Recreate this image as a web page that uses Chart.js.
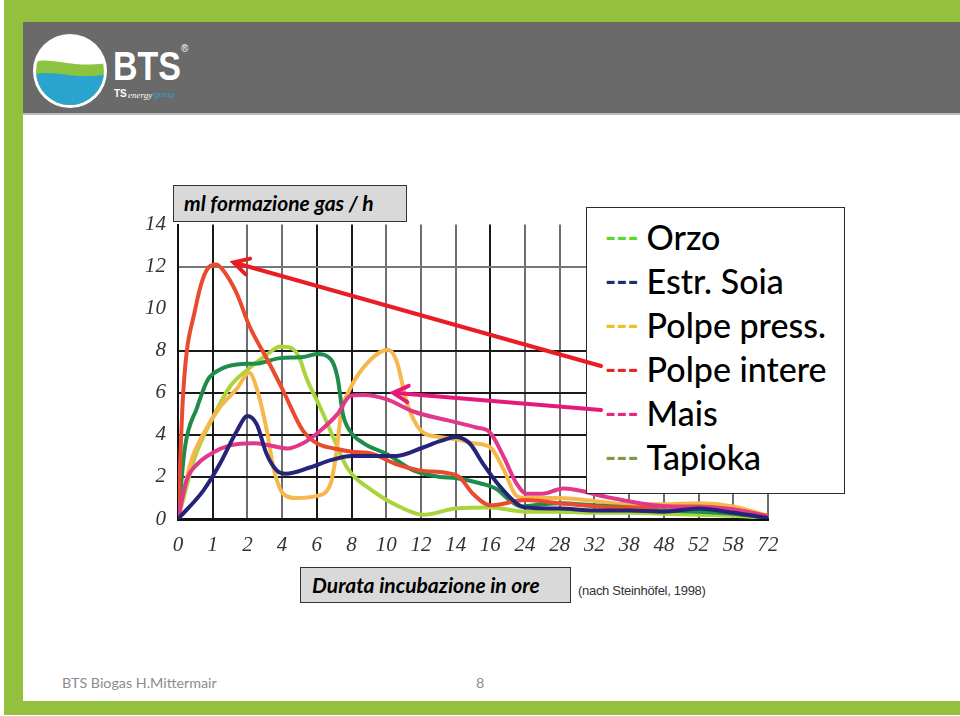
<!DOCTYPE html>
<html>
<head>
<meta charset="utf-8">
<script src="https://cdn.jsdelivr.net/npm/chart.js@4/dist/chart.umd.min.js"></script>
<style>
  html, body { margin:0; padding:0; background:#fff; }
  #slide { position:relative; width:960px; height:716px; overflow:hidden; background:#fff; font-family: Lato, "Open Sans", sans-serif; }
  .green { position:absolute; background:#93c13d; }
  #header { position:absolute; left:23px; top:22px; width:937px; height:91px; background:#6a6a6a; border-bottom:2px solid #b9b9b9; }
  #chartCanvas, #overlay { position:absolute; left:120px; top:200px; }
  #chartCanvas { z-index:1; }
  #legend { position:absolute; left:586px; top:207px; width:257px; height:278px; background:#fff; border:1.5px solid #2a2a2a; z-index:2; box-sizing:content-box; padding-top:7px; }
  #legend .row { height:44px; line-height:44px; font-size:34px; font-weight:500; color:#000; white-space:nowrap; padding-left:18px; }
  #legend .dash { font-weight:700; font-size:30px; margin-right:8px; position:relative; top:-2px; }
  #overlay { z-index:3; pointer-events:none; }
  .tbox { position:absolute; background:#d9d9d9; border:1.5px solid #333; font-weight:700; font-style:italic; font-size:21px; color:#000; box-sizing:border-box; padding-left:10px; z-index:2; }
  #src { position:absolute; left:578px; top:583px; font-family:"Liberation Sans Narrow","Liberation Sans",Arial,sans-serif; font-size:13px; letter-spacing:-0.3px; color:#333; }
  #footer { position:absolute; left:62px; top:674px; font-size:14.3px; color:#8c8c8c; }
  #page { position:absolute; left:476px; top:674px; font-size:14.3px; color:#8c8c8c; }
</style>
</head>
<body>
<div id="slide">
  <div class="green" style="left:4px;top:0;width:956px;height:22px;"></div>
  <div class="green" style="left:4px;top:0;width:19px;height:715px;"></div>
  <div class="green" style="left:4px;top:701px;width:956px;height:14px;"></div>
  <div id="header">
    <svg width="200" height="91" style="position:absolute;left:0;top:0;">
      <defs>
        <clipPath id="cc"><circle cx="47" cy="49" r="34"/></clipPath>
      </defs>
      <circle cx="47" cy="49" r="37" fill="#ffffff"/>
      <g clip-path="url(#cc)">
        <rect x="10" y="10" width="80" height="80" fill="#ffffff"/>
        <path d="M10 40 C 30 34, 50 48, 90 40 L 90 90 L 10 90 Z" fill="#8dc43f"/>
        <path d="M10 53 C 30 46, 55 60, 90 51 L 90 90 L 10 90 Z" fill="#2aa3cf"/>
      </g>
      <text x="90" y="58" textLength="68" lengthAdjust="spacingAndGlyphs" font-family="Liberation Sans, Arial" font-weight="700" font-size="40" fill="#ffffff">BTS</text>
      <text x="158" y="30" font-family="Liberation Sans, Arial" font-size="10" fill="#ffffff">®</text>
      <text x="91" y="75" font-family="Liberation Sans, Arial" font-weight="700" font-size="10" fill="#ffffff">TS</text>
      <text x="105" y="76" font-family="Liberation Serif" font-style="italic" font-size="9" fill="#ffffff">energy</text>
      <text x="131" y="75" font-family="Liberation Sans, Arial" font-size="8" fill="#2aa3cf">group</text>
    </svg>
  </div>

  <div class="tbox" style="left:173px;top:185px;width:234px;height:37px;line-height:34px;">ml formazione gas / h</div>
  <div class="tbox" style="left:300px;top:567px;width:271px;height:36px;line-height:33px;padding-left:11px;">Durata incubazione in ore</div>
  <div id="src">(nach Steinhöfel, 1998)</div>

  <canvas id="chartCanvas" width="700" height="370"></canvas>
  <canvas id="overlay" width="700" height="370"></canvas>

  <div id="legend">
    <div class="row"><span class="dash" style="color:#5ed62e">---</span>Orzo</div>
    <div class="row"><span class="dash" style="color:#1f2d6b">---</span>Estr. Soia</div>
    <div class="row"><span class="dash" style="color:#f0c020">---</span>Polpe press.</div>
    <div class="row" id="rowIntere"><span class="dash" style="color:#e8262a">---</span>Polpe intere</div>
    <div class="row" id="rowMais"><span class="dash" style="color:#e8287a">---</span>Mais</div>
    <div class="row"><span class="dash" style="color:#7f9a3c">---</span>Tapioka</div>
  </div>

  <div id="footer">BTS Biogas H.Mittermair</div>
  <div id="page">8</div>
</div>

<script>
// ---- Data (x = position index along the hour axis, y = ml gas / h) ----
const hourLabels = ['0','1','2','4','6','8','10','12','14','16','24','28','32','38','48','52','58','72'];
const yTickValues = [0, 2, 4, 6, 8, 10, 12, 14];

const soiaX = [0, 0.73, 1.2, 1.7, 2.0, 2.27, 2.55, 2.85, 3.1, 3.8, 4.4, 5.0, 6.3, 7.06, 7.55, 8.0, 8.4, 8.8, 9.2, 9.75, 10, 11, 12, 13, 14, 15, 16, 17];
const soiaY = [0, 1.35, 2.6, 4.2, 4.9, 4.5, 3.1, 2.3, 2.15, 2.45, 2.8, 3.0, 3.0, 3.4, 3.7, 3.9, 3.6, 2.6, 1.7, 0.75, 0.55, 0.5, 0.4, 0.4, 0.35, 0.5, 0.3, 0.05];

const maisX = [0, 0.25, 0.55, 1.0, 1.5, 2.17, 2.65, 3.14, 3.6, 4.1, 4.6, 4.96, 5.35, 6.0, 6.8, 7.75, 8.6, 9.0, 9.4, 9.75, 10.05, 10.5, 11.1, 12.35, 13.3, 14.3, 15, 16, 17];
const maisY = [0, 1.85, 2.6, 3.15, 3.5, 3.6, 3.5, 3.35, 3.6, 4.2, 5.0, 5.85, 5.9, 5.7, 5.1, 4.7, 4.35, 4.1, 2.9, 1.7, 1.2, 1.2, 1.45, 1.05, 0.75, 0.57, 0.55, 0.45, 0.1];

const intereX = [0, 0.15, 0.5, 0.85, 1.1, 1.4, 1.7, 2.05, 2.6, 3.0, 3.6, 4.0, 4.5, 5.0, 5.6, 6.3, 7.0, 7.7, 8.1, 8.5, 9.0, 10, 11, 12, 13, 14, 15, 16, 17];
const intereY = [0, 6, 10, 11.9, 12.1, 11.6, 10.7, 9.2, 7.5, 6.2, 4.2, 3.6, 3.35, 3.2, 3.1, 2.6, 2.3, 2.2, 2.0, 1.2, 0.65, 0.9, 0.75, 0.6, 0.55, 0.6, 0.6, 0.45, 0.15];

const pressX = [0, 0.35, 0.73, 1.2, 1.7, 2.05, 2.27, 2.56, 2.75, 3.03, 3.4, 4.0, 4.4, 4.55, 4.7, 4.96, 5.5, 6.05, 6.3, 6.6, 7.0, 7.5, 8.0, 8.5, 9.0, 9.4, 9.75, 10, 11, 12, 13, 14, 15, 16, 17];
const pressY = [0, 2.6, 4.05, 5.3, 6.2, 6.95, 6.2, 4.2, 2.45, 1.2, 1.0, 1.1, 1.7, 3.0, 5.0, 6.2, 7.5, 8.05, 7.5, 5.5, 4.2, 3.9, 3.8, 3.6, 3.4, 2.3, 1.1, 1.0, 1.0, 0.85, 0.7, 0.7, 0.75, 0.6, 0.15];

const tapiokaX = [0, 0.2, 0.55, 0.85, 1.2, 1.7, 2.3, 2.95, 3.6, 4.0, 4.4, 4.6, 4.75, 4.95, 5.35, 6.0, 6.8, 7.55, 8.0, 8.7, 9.2, 9.55, 9.9, 10.5, 11, 12, 13, 14, 15, 16, 17];
const tapiokaY = [0, 3.4, 5.3, 6.6, 7.1, 7.35, 7.4, 7.65, 7.7, 7.85, 7.6, 6.7, 5.0, 4.2, 3.6, 3.1, 2.3, 2.0, 1.95, 1.7, 1.4, 0.9, 0.6, 0.7, 0.75, 0.65, 0.55, 0.4, 0.35, 0.25, 0.05];

const orzoX = [0, 0.5, 1.0, 1.5, 2.0, 2.55, 2.95, 3.3, 3.5, 3.7, 4.1, 4.47, 4.87, 5.6, 6.4, 7.06, 8.0, 9.0, 10, 11, 12, 13, 14, 15, 16, 17];
const orzoY = [0, 3.0, 4.8, 6.3, 7.1, 7.8, 8.2, 8.1, 7.65, 6.7, 5.3, 3.9, 2.45, 1.35, 0.57, 0.2, 0.5, 0.55, 0.35, 0.35, 0.3, 0.3, 0.25, 0.2, 0.15, 0.05];

// annotation arrow tips (in data units)
const arrowTips = [
  { row: 'rowIntere', x: 1.6, y: 12.2, color: '#ea1c24' },
  { row: 'rowMais',   x: 6.2, y: 6.0,  color: '#e6197a' }
];

function pts(xs, ys) { return xs.map((x, i) => ({ x: x, y: ys[i] })); }

function ds(label, xs, ys, color) {
  return {
    label, data: pts(xs, ys), borderColor: color, backgroundColor: color,
    borderWidth: 4, pointRadius: 0, cubicInterpolationMode: 'monotone', fill: false,
    borderCapStyle: 'round', borderJoinStyle: 'round'
  };
}

const blackCols = [0, 1, 4, 5, 9];

const arrowPlugin = {
  id: 'arrows',
  afterDraw(chart) {
    const oc = document.getElementById('overlay');
    const ctx = oc.getContext('2d');
    ctx.clearRect(0, 0, oc.width, oc.height);
    const cr = chart.canvas.getBoundingClientRect();
    arrowTips.forEach(a => {
      const tx = chart.scales.x.getPixelForValue(a.x);
      const ty = chart.scales.y.getPixelForValue(a.y);
      const r = document.getElementById(a.row).getBoundingClientRect();
      const sx = r.left - cr.left + 14;
      const sy = r.top - cr.top + r.height / 2 - 3;
      const ang = Math.atan2(ty - sy, tx - sx);
      ctx.save();
      ctx.strokeStyle = a.color;
      ctx.lineWidth = 4;
      ctx.lineCap = 'round';
      ctx.lineJoin = 'miter';
      ctx.beginPath();
      ctx.moveTo(sx, sy);
      ctx.lineTo(tx - Math.cos(ang) * 3, ty - Math.sin(ang) * 3);
      ctx.stroke();
      const L = 17, w = 0.5;
      ctx.beginPath();
      ctx.moveTo(tx - L * Math.cos(ang - w), ty - L * Math.sin(ang - w));
      ctx.lineTo(tx, ty);
      ctx.lineTo(tx - L * Math.cos(ang + w), ty - L * Math.sin(ang + w));
      ctx.stroke();
      ctx.restore();
    });
  }
};

new Chart(document.getElementById('chartCanvas'), {
  type: 'line',
  data: {
    datasets: [
      ds('Estr. Soia', soiaX, soiaY, '#262479'),
      ds('Mais', maisX, maisY, '#e2388c'),
      ds('Polpe intere', intereX, intereY, '#ea4b2f'),
      ds('Tapioka', tapiokaX, tapiokaY, '#1f8c4c'),
      ds('Polpe press.', pressX, pressY, '#f6b84c'),
      ds('Orzo', orzoX, orzoY, '#a9d43c')
    ]
  },
  options: {
    responsive: false,
    animation: false,
    devicePixelRatio: 1,
    layout: { padding: { left: 0, top: 22, right: 52, bottom: 0 } },
    plugins: { legend: { display: false }, tooltip: { enabled: false } },
    scales: {
      x: {
        type: 'linear', min: 0, max: 17,
        afterFit(s) { s.height = 51; },
        border: { display: true, color: '#111', width: 3 },
        grid: {
          drawTicks: false,
          lineWidth: 2,
          color: c => blackCols.includes(c.tick ? c.tick.value : -1) ? '#1a1a1a' : '#6e6e6e'
        },
        ticks: {
          stepSize: 1, autoSkip: false, padding: 14, color: '#333',
          font: { family: 'Liberation Serif', style: 'italic', size: 21 },
          callback: v => hourLabels[v]
        }
      },
      y: {
        min: 0, max: 14,
        afterFit(s) { s.width = 58; },
        afterBuildTicks(s) { s.ticks = yTickValues.map(v => ({ value: v })); },
        border: { display: true, color: '#111', width: 2 },
        grid: {
          drawTicks: false,
          lineWidth: 2,
          color: c => {
            const v = c.tick ? c.tick.value : -1;
            if (v === 10 || v === 14) return 'rgba(0,0,0,0)';
            if (v === 12) return '#777';
            return '#1a1a1a';
          }
        },
        ticks: {
          padding: 12, color: '#333',
          font: { family: 'Liberation Serif', style: 'italic', size: 21 }
        }
      }
    }
  },
  plugins: [arrowPlugin]
});
</script>
</body>
</html>
